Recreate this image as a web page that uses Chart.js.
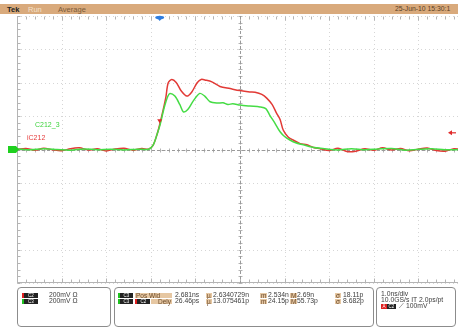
<!DOCTYPE html>
<html>
<head>
<meta charset="utf-8">
<script src="https://cdn.jsdelivr.net/npm/chart.js@4"></script>
<style>
  html, body { margin: 0; padding: 0; background: #fff; }
  #wrap { position: relative; width: 458px; height: 329px; overflow: hidden; font-family: "Liberation Sans", Arial, sans-serif; }
  #scope { position: absolute; left: 0; top: 0; }
  .abs { position: absolute; white-space: nowrap; line-height: 1; }
  #header { position: absolute; left: 0; top: 4px; width: 458px; height: 10px; background: #d9aa7c; }
  .box { position: absolute; top: 287px; height: 40px; border: 1px solid #8c8c8c; border-radius: 4px; box-sizing: border-box; }
  .txt { font-size: 6.8px; color: #3c3c3c; }
  .badge { position: absolute; height: 5px; background: #222; color: #fff; font-size: 4.5px; line-height: 5px; text-align: center; }
  .stripe { position: absolute; width: 2px; height: 5px; }
  .tan { position: absolute; height: 5px; background: #e6c7a2; color: #6a4a2a; font-size: 6.5px; line-height: 5px; padding: 0 1px; }
</style>
</head>
<body>
<div id="wrap">
  <canvas id="scope" width="458" height="329"></canvas>

  <div id="header"></div>
  <div class="abs" style="left:7px;top:5.5px;font-size:7.5px;font-weight:bold;color:#222;">Tek</div>
  <div class="abs" style="left:28px;top:5.5px;font-size:7.5px;color:#f4e2cc;">Run</div>
  <div class="abs" style="left:58px;top:5.5px;font-size:7.5px;color:#7a5a3a;">Average</div>
  <div class="abs" style="left:395px;top:6px;font-size:6.8px;color:#5a3f25;">25-Jun-10 15:30:1</div>

  <div class="abs" style="left:35px;top:121px;font-size:7px;color:#3ed33e;">C212_3</div>
  <div class="abs" style="left:27px;top:134px;font-size:7px;color:#e53b3b;">iC212</div>

  <!-- channel box -->
  <div class="box" style="left:17px;width:94px;"></div>
  <div class="stripe" style="left:22px;top:293px;background:#e02020;"></div>
  <div class="badge" style="left:24px;top:293px;width:14px;">C2</div>
  <div class="abs txt" style="left:49px;top:292px;">200mV Ω</div>
  <div class="stripe" style="left:22px;top:299px;background:#20c020;"></div>
  <div class="badge" style="left:24px;top:299px;width:14px;">C3</div>
  <div class="abs txt" style="left:49px;top:298px;">200mV Ω</div>

  <!-- measurement box -->
  <div class="box" style="left:114px;width:260px;"></div>
  <div class="stripe" style="left:118px;top:293px;background:#20c020;"></div>
  <div class="badge" style="left:120px;top:293px;width:13px;">C3</div>
  <div class="tan" style="left:135px;top:293px;width:35px;">Pos Wid</div>
  <div class="abs txt" style="left:175px;top:292px;">2.681ns</div>
  <div class="tan" style="left:206px;top:293px;">µ</div>
  <div class="abs txt" style="left:213px;top:292px;">2.6340729n</div>
  <div class="tan" style="left:260px;top:293px;">m</div>
  <div class="abs txt" style="left:268px;top:292px;">2.534n</div>
  <div class="tan" style="left:290px;top:293px;">M</div>
  <div class="abs txt" style="left:297px;top:292px;">2.69n</div>
  <div class="tan" style="left:335px;top:293px;">σ</div>
  <div class="abs txt" style="left:343px;top:292px;">18.11p</div>

  <div class="stripe" style="left:118px;top:299px;background:#20c020;"></div>
  <div class="badge" style="left:120px;top:299px;width:13px;">C3</div>
  <div class="stripe" style="left:135px;top:299px;background:#e02020;"></div>
  <div class="badge" style="left:137px;top:299px;width:13px;">C2</div>
  <div class="tan" style="left:151px;top:299px;width:19px;text-align:right;">Dely</div>
  <div class="abs txt" style="left:175px;top:298px;">26.46ps</div>
  <div class="tan" style="left:206px;top:299px;">µ</div>
  <div class="abs txt" style="left:213px;top:298px;">13.075461p</div>
  <div class="tan" style="left:260px;top:299px;">m</div>
  <div class="abs txt" style="left:268px;top:298px;">24.15p</div>
  <div class="tan" style="left:290px;top:299px;">M</div>
  <div class="abs txt" style="left:297px;top:298px;">55.73p</div>
  <div class="tan" style="left:335px;top:299px;">σ</div>
  <div class="abs txt" style="left:343px;top:298px;">8.682p</div>

  <!-- timebase box -->
  <div class="box" style="left:376px;width:80px;"></div>
  <div class="abs txt" style="left:381px;top:291px;">1.0ns/div</div>
  <div class="abs txt" style="left:381px;top:297px;">10.0GS/s IT 2.0ps/pt</div>
  <div class="badge" style="left:381px;top:304px;width:6px;background:#e02020;">A</div>
  <div class="badge" style="left:387px;top:304px;width:9px;">C2</div>
  <div class="abs txt" style="left:399px;top:303px;">⟋ 100mV</div>
</div>

<script>
// time in ns (1 ns/div), amplitude in mV (200 mV/div)
const redTime = [-5.0, -4.8, -4.6, -4.4, -4.2, -4.0, -3.8, -3.6, -3.4, -3.2, -3.0, -2.8, -2.6, -2.4, -2.2,
  -2.05, -1.95, -1.86, -1.79, -1.72, -1.66, -1.61, -1.53, -1.43, -1.32, -1.19, -1.08, -0.96, -0.87, -0.76,
  -0.63, -0.45, -0.22, 0.0, 0.22, 0.34, 0.49, 0.60, 0.72, 0.82, 0.90, 0.97, 1.08, 1.19, 1.35,
  1.50, 1.65, 1.8, 2.0, 2.2, 2.4, 2.6, 2.8, 3.0, 3.2, 3.4, 3.6, 3.8, 4.0, 4.2, 4.4, 4.6, 4.8, 4.95];
const redMv = [0, 6, -4, 8, -2, -8, 5, 10, -3, 4, -9, 3, 8, -4, 6,
  2, 25, 90, 160, 240, 316, 398, 420, 402, 352, 320, 345, 400, 420, 415,
  405, 378, 365, 353, 345, 343, 330, 308, 270, 218, 180, 117, 75, 57, 35,
  28, 12, 5, -6, 8, -12, -10, 4, -5, 10, -3, 6, -8, 2, 9, -6, -10, 5, 0];

const greenTime = [-5.0, -4.7, -4.4, -4.1, -3.8, -3.5, -3.2, -2.9, -2.6, -2.3,
  -2.05, -1.95, -1.86, -1.79, -1.70, -1.62, -1.57, -1.46, -1.35, -1.27,
  -1.17, -1.05, -0.90, -0.79, -0.67, -0.51, -0.38, -0.27, -0.16, 0.0,
  0.22, 0.45, 0.58, 0.67, 0.78, 0.90, 1.00, 1.12, 1.25, 1.42,
  1.6, 1.9, 2.2, 2.5, 2.8, 3.1, 3.4, 3.7, 4.0, 4.3, 4.6, 4.95];
const greenMv = [3, -2, 4, 0, -4, 3, -1, 2, -3, 2,
  2, 25, 90, 150, 250, 318, 336, 320, 270, 226,
  240, 290, 336, 320, 286, 278, 280, 270, 274, 266,
  260, 255, 245, 205, 160, 106, 78, 57, 40, 28,
  15, 4, -3, 5, -2, 3, 6, -4, 1, 4, -2, 0];

const timeDivs = [-5, -4, -3, -2, -1, 0, 1, 2, 3, 4, 5];
const voltDivs = [-800, -600, -400, -200, 0, 200, 400, 600, 800];
const triggerTime = -1.8;
const triggerMarkMv = 170;
const triggerLevelMv = 100;

const toPoints = (xs, ys) => xs.map((x, i) => ({ x: x, y: ys[i] }));

// graticule + scope markers, placed through the chart scales
const graticule = {
    id: 'graticule',
    beforeDatasetsDraw(chart) {
        const { ctx, chartArea: a, scales: { x, y } } = chart;
        const minor = 0.2;
        ctx.save();

        // dotted division lines
        ctx.strokeStyle = '#d6d6d6';
        ctx.lineWidth = 1;
        ctx.setLineDash([1, 3]);
        timeDivs.forEach(t => {
            const px = Math.round(x.getPixelForValue(t)) + 0.5;
            ctx.beginPath(); ctx.moveTo(px, a.top); ctx.lineTo(px, a.bottom); ctx.stroke();
        });
        voltDivs.forEach(v => {
            const py = Math.round(y.getPixelForValue(v)) + 0.5;
            ctx.beginPath(); ctx.moveTo(a.left, py); ctx.lineTo(a.right, py); ctx.stroke();
        });
        ctx.setLineDash([]);

        // frame edges and center cross with minor ticks
        ctx.strokeStyle = '#b4b4b4';
        const yc = Math.round(y.getPixelForValue(0)) + 0.5;
        const xc = Math.round(x.getPixelForValue(0)) + 0.5;
        const left = Math.round(a.left) + 0.5;
        const top = Math.round(a.top) + 0.5;
        const bottom = Math.round(a.bottom) - 0.5;
        ctx.beginPath();
        ctx.moveTo(left, a.top); ctx.lineTo(left, a.bottom);
        ctx.moveTo(a.left, bottom); ctx.lineTo(a.right, bottom);
        ctx.stroke();

        for (let t = -5; t <= 5.001; t += minor) {
            const px = Math.round(x.getPixelForValue(t)) + 0.5;
            const major = Math.abs(t - Math.round(t)) < 0.01;
            ctx.beginPath();
            ctx.moveTo(px, top); ctx.lineTo(px, top + (major ? 4 : 3));
            ctx.moveTo(px, bottom); ctx.lineTo(px, bottom - (major ? 4 : 3));
            ctx.moveTo(px, yc - 2); ctx.lineTo(px, yc + 2);
            ctx.stroke();
        }
        for (let v = -800; v <= 800.001; v += 200 * minor) {
            const py = Math.round(y.getPixelForValue(v)) + 0.5;
            ctx.beginPath();
            ctx.moveTo(left, py); ctx.lineTo(left + 3, py);
            ctx.moveTo(xc - 2, py); ctx.lineTo(xc + 2, py);
            ctx.stroke();
        }
        ctx.strokeStyle = '#9a9a9a';
        ctx.setLineDash([3, 2]);
        ctx.beginPath();
        ctx.moveTo(a.left, yc); ctx.lineTo(a.right, yc);
        ctx.moveTo(xc, a.top); ctx.lineTo(xc, a.bottom);
        ctx.stroke();
        ctx.restore();
    },
    afterDatasetsDraw(chart) {
        const { ctx, chartArea: a, scales: { x, y } } = chart;
        ctx.save();

        // trigger position (blue, top edge)
        const tx = x.getPixelForValue(triggerTime);
        ctx.fillStyle = '#2f7de0';
        ctx.beginPath();
        ctx.ellipse(tx, a.top + 1.5, 4.5, 1.8, 0, 0, Math.PI * 2);
        ctx.fill();
        ctx.beginPath();
        ctx.moveTo(tx - 2, a.top + 2.5); ctx.lineTo(tx + 2, a.top + 2.5); ctx.lineTo(tx, a.top + 5);
        ctx.fill();

        // trigger point on the waveform
        const my = y.getPixelForValue(triggerMarkMv);
        ctx.fillStyle = '#e02b2b';
        ctx.beginPath();
        ctx.moveTo(tx - 2.5, my - 2); ctx.lineTo(tx + 2.5, my - 2); ctx.lineTo(tx, my + 2);
        ctx.fill();

        // trigger level arrow (right edge)
        const ly = y.getPixelForValue(triggerLevelMv);
        ctx.strokeStyle = '#e02b2b';
        ctx.lineWidth = 1.2;
        ctx.beginPath();
        ctx.moveTo(a.right - 8, ly); ctx.lineTo(a.right - 2, ly);
        ctx.stroke();
        ctx.beginPath();
        ctx.moveTo(a.right - 10, ly); ctx.lineTo(a.right - 6, ly - 2.5); ctx.lineTo(a.right - 6, ly + 2.5);
        ctx.fill();

        // channel ground marker (green, left edge)
        const gy = y.getPixelForValue(0);
        ctx.fillStyle = '#1fd01f';
        ctx.fillRect(8, gy - 3.5, 8, 7);
        ctx.beginPath();
        ctx.moveTo(16, gy - 3.5); ctx.lineTo(19, gy); ctx.lineTo(16, gy + 3.5);
        ctx.fill();
        ctx.restore();
    }
};

new Chart(document.getElementById('scope'), {
    type: 'scatter',
    data: {
        datasets: [
            {
                label: 'C212_3',
                data: toPoints(greenTime, greenMv),
                showLine: true,
                borderColor: '#45dc45',
                borderWidth: 1.5,
                pointRadius: 0,
                tension: 0.3
            },
            {
                label: 'iC212',
                data: toPoints(redTime, redMv),
                showLine: true,
                borderColor: '#e23a36',
                borderWidth: 1.5,
                pointRadius: 0,
                tension: 0.3
            }
        ]
    },
    options: {
        responsive: false,
        animation: false,
        layout: { padding: { left: 17, right: 0, top: 16, bottom: 46 } },
        plugins: { legend: { display: false }, tooltip: { enabled: false } },
        scales: {
            x: {
                type: 'linear',
                min: -5,
                max: 4.89,
                display: false
            },
            y: {
                type: 'linear',
                min: -800,
                max: 800,
                display: false
            }
        }
    },
    plugins: [graticule]
});
</script>
</body>
</html>
